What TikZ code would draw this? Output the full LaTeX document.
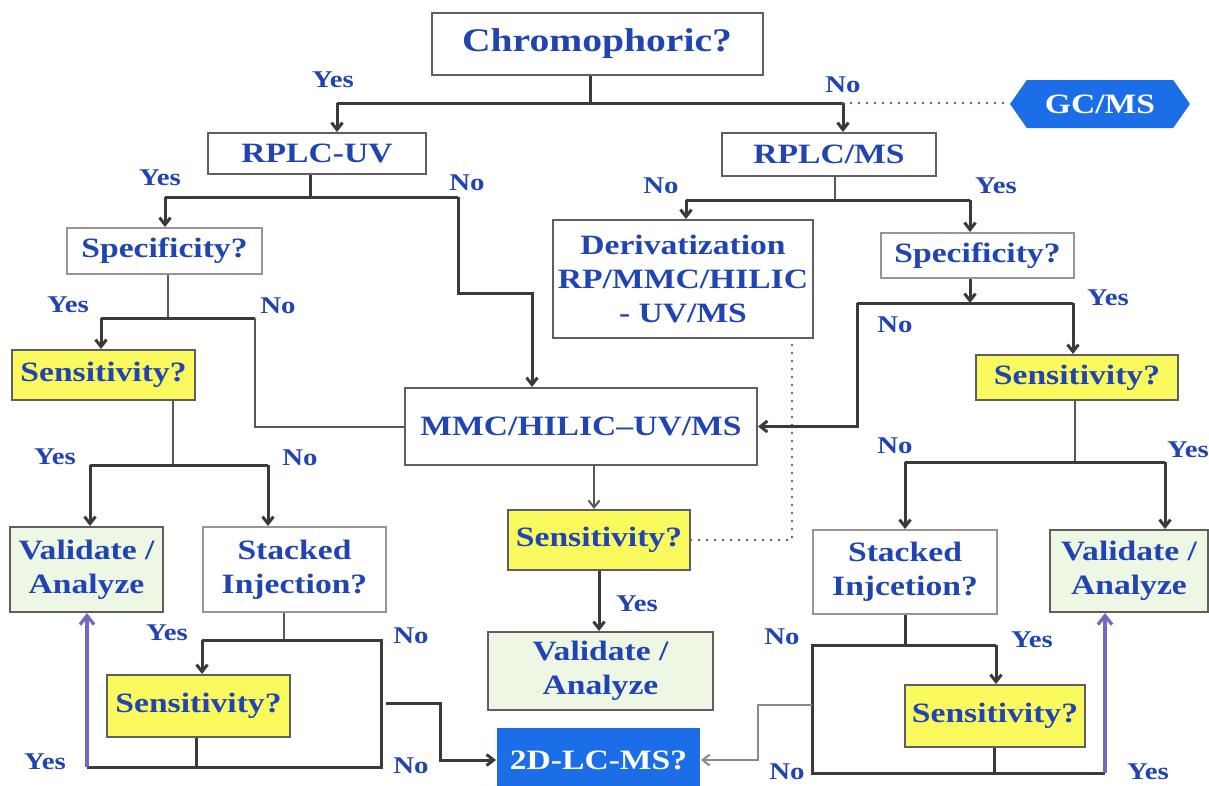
\documentclass[tikz,border=0pt]{standalone}
\usepackage{fontspec}
\setmainfont{Liberation Serif}[FakeStretch=1.2]
\usetikzlibrary{arrows.meta,shapes.symbols}
\definecolor{tblue}{RGB}{32,68,178}
\definecolor{lgray}{RGB}{58,58,58}
\definecolor{bgray}{RGB}{95,95,95}
\definecolor{sgray}{RGB}{150,150,150}
\definecolor{yfill}{RGB}{250,250,95}
\definecolor{gfill}{RGB}{238,246,228}
\definecolor{dblue}{RGB}{28,110,232}
\definecolor{purp}{RGB}{120,100,195}
\tikzset{
  box/.style={draw=bgray, line width=2pt, fill=white, inner sep=0pt, align=center,
    text=tblue, font=\fontsize{28}{34}\selectfont\bfseries},
  ybox/.style={box, fill=yfill},
  gbox/.style={box, fill=gfill},
  sbox/.style={box, draw=sgray},
  bbox/.style={box, draw=none, fill=dblue, text=white},
  lab/.style={text=tblue, font=\fontsize{24}{28}\selectfont\bfseries, inner sep=0pt},
  ln/.style={draw=lgray, line width=3pt},
  thin/.style={draw=lgray!85, line width=2pt},
  arr/.style={ln, -{Straight Barb[length=7pt,width=11pt]}},
  tarr/.style={thin, -{Straight Barb[length=7pt,width=11pt]}},
  parr/.style={draw=purp, line width=3.2pt, -{Straight Barb[length=9pt,width=14pt]}},
  dotl/.style={draw=bgray, line width=2.8pt, line cap=round, dash pattern=on 0pt off 8pt},
}
\begin{document}
\begin{tikzpicture}[x=1pt,y=-1pt]
\useasboundingbox (0,0) rectangle (1209,785);
\fill[white] (0,0) rectangle (1209,785);

% nodes
\node[box, minimum width=331, minimum height=62, font=\fontsize{33}{38}\selectfont\bfseries] (chromo) at (597,44) {Chromophoric?};
\node[box, minimum width=218, minimum height=41] (rplcuv) at (317,153.5) {RPLC-UV};
\node[box, minimum width=214, minimum height=43] (rplcms) at (829,154.5) {RPLC/MS};
\node[bbox, shape=signal, signal to=west and east, signal pointer angle=110,
      minimum width=180, minimum height=48] (gcms) at (1100,104) {GC/MS};
\node[sbox, minimum width=195, minimum height=46] (spec1) at (164.5,251) {Specificity?};
\node[ybox, minimum width=183, minimum height=50] (sens1) at (103.5,375) {Sensitivity?};
\node[gbox, minimum width=153, minimum height=85] (val1) at (86.5,569.5) {Validate /\\Analyze};
\node[sbox, minimum width=183, minimum height=85] (stack1) at (294.5,569.5) {Stacked\\Injection?};
\node[ybox, minimum width=183, minimum height=62] (sens2) at (198.5,706) {Sensitivity?};
\node[box, minimum width=352, minimum height=77] (mmc) at (581,426.5) {MMC/HILIC--UV/MS};
\node[ybox, minimum width=182, minimum height=60] (sens3) at (599,540) {Sensitivity?};
\node[gbox, minimum width=225, minimum height=78] (val2) at (600.5,671) {Validate /\\Analyze};
\node[bbox, minimum width=203, minimum height=64] (lcms) at (598.5,760) {2D-LC-MS?};
\node[box, minimum width=260, minimum height=118] (deriv) at (683,279) {Derivatization\\RP/MMC/HILIC\\- UV/MS};
\node[sbox, minimum width=193, minimum height=45] (spec2) at (977.5,255.5) {Specificity?};
\node[ybox, minimum width=202, minimum height=45] (sens4) at (1077,377.5) {Sensitivity?};
\node[sbox, minimum width=184, minimum height=84] (stack2) at (905,572) {Stacked\\Injcetion?};
\node[gbox, minimum width=158, minimum height=82] (val3) at (1129,571) {Validate /\\Analyze};
\node[ybox, minimum width=180, minimum height=62] (sens5) at (995,716) {Sensitivity?};

% junction coordinates
\coordinate (c1) at (590,103); \coordinate (c1L) at (337,103); \coordinate (c1R) at (843,103);
\coordinate (c2) at (310,197); \coordinate (c2L) at (165,197); \coordinate (c2R) at (458,197);
\coordinate (c2a) at (458,293); \coordinate (c2b) at (532,293);
\coordinate (c3) at (168,318); \coordinate (c3L) at (101,318); \coordinate (c3R) at (255,318);
\coordinate (c4) at (173,465); \coordinate (c4L) at (90,465); \coordinate (c4R) at (268,465);
\coordinate (c5) at (284,640); \coordinate (c5L) at (202,640); \coordinate (c5R) at (381,640);
\coordinate (c5B) at (381,767); \coordinate (c6L) at (87,767); \coordinate (c6) at (196,767);
\coordinate (c7) at (386,703); \coordinate (c7a) at (440,703);
\coordinate (c8) at (594,480);
\coordinate (c9) at (792,540);
\coordinate (c10) at (835,200); \coordinate (c10L) at (686,200); \coordinate (c10R) at (970,200);
\coordinate (c11) at (970,303); \coordinate (c11L) at (857,303); \coordinate (c11R) at (1073,303);
\coordinate (c12) at (1075,462); \coordinate (c12L) at (905,462); \coordinate (c12R) at (1165,462);
\coordinate (c13) at (905,645); \coordinate (c13L) at (812,645); \coordinate (c13R) at (996,645);
\coordinate (c14L) at (812,773); \coordinate (c14R) at (1105,773); \coordinate (c14) at (994,773);
\coordinate (c15) at (812,705); \coordinate (c15a) at (758,705);

% connectors
\draw[ln] (c1 |- chromo.south) -- (c1);
\draw[ln] (c1L) -- (c1R);
\draw[arr] (c1L) -- (c1L |- rplcuv.north);
\draw[arr] (c1R) -- (c1R |- rplcms.north);
\draw[dotl] (c1R) -- (c1R -| gcms.west);

\draw[ln] (c2 |- rplcuv.south) -- (c2);
\draw[ln] (c2L) -- (c2R);
\draw[arr] (c2L) -- (c2L |- spec1.north);
\draw[arr] (c2R) -- (c2a) -- (c2b) -- (c2b |- mmc.north);

\draw[thin] (c3 |- spec1.south) -- (c3);
\draw[ln] (c3L) -- (c3R);
\draw[arr] (c3L) -- (c3L |- sens1.north);
\draw[thin] (c3R) -- (c3R |- mmc.west) -- (mmc.west);

\draw[thin] (c4 |- sens1.south) -- (c4);
\draw[ln] (c4L) -- (c4R);
\draw[arr] (c4L) -- (c4L |- val1.north);
\draw[arr] (c4R) -- (c4R |- stack1.north);

\draw[thin] (c5 |- stack1.south) -- (c5);
\draw[ln] (c5L) -- (c5R) -- (c5B) -- (c6L);
\draw[arr] (c5L) -- (c5L |- sens2.north);
\draw[ln] (c6 |- sens2.south) -- (c6);
\draw[parr] (c6L) -- (c6L |- val1.south);
\draw[arr] (c7) -- (c7a) -- (c7a |- lcms.west) -- (lcms.west);

\draw[tarr] (c8 |- mmc.south) -- (c8 |- sens3.north);
\draw[arr] (sens3.south) -- (sens3.south |- val2.north);
\draw[dotl] (sens3.east) -- (c9) -- (c9 |- deriv.south);

\draw[thin] (c10 |- rplcms.south) -- (c10);
\draw[ln] (c10L) -- (c10R);
\draw[arr] (c10L) -- (c10L |- deriv.north);
\draw[arr] (c10R) -- (c10R |- spec2.north);

\draw[arr] (c11 |- spec2.south) -- (c11);
\draw[ln] (c11L) -- (c11R);
\draw[arr] (c11R) -- (c11R |- sens4.north);
\draw[arr] (c11L) -- (c11L |- mmc.east) -- (mmc.east);

\draw[thin] (c12 |- sens4.south) -- (c12);
\draw[ln] (c12L) -- (c12R);
\draw[arr] (c12L) -- (c12L |- stack2.north);
\draw[arr] (c12R) -- (c12R |- val3.north);

\draw[ln] (c13 |- stack2.south) -- (c13);
\draw[ln] (c13R) -- (c13L) -- (c14L) -- (c14R);
\draw[arr] (c13R) -- (c13R |- sens5.north);
\draw[ln] (c14 |- sens5.south) -- (c14);
\draw[parr] (c14R) -- (c14R |- val3.south);
\draw[tarr, draw=lgray!60] (c15) -- (c15a) -- (c15a |- lcms.east) -- (lcms.east);

% labels
\node[lab] (l1) at (333,80) {Yes};
\node[lab] (l2) at (843,85) {No};
\node[lab] (l3) at (160,178) {Yes};
\node[lab] (l4) at (467,183) {No};
\node[lab] (l5) at (68,305) {Yes};
\node[lab] (l6) at (278,306) {No};
\node[lab] (l7) at (55,457) {Yes};
\node[lab] (l8) at (300,458) {No};
\node[lab] (l9) at (167,633) {Yes};
\node[lab] (l10) at (411,636) {No};
\node[lab] (l11) at (45,762) {Yes};
\node[lab] (l12) at (411,766) {No};
\node[lab] (l13) at (637,604) {Yes};
\node[lab] (l14) at (661,186) {No};
\node[lab] (l15) at (996,186) {Yes};
\node[lab] (l16) at (1108,298) {Yes};
\node[lab] (l17) at (895,325) {No};
\node[lab] (l18) at (895,446) {No};
\node[lab] (l19) at (1188,450) {Yes};
\node[lab] (l20) at (782,637) {No};
\node[lab] (l21) at (1032,640) {Yes};
\node[lab] (l22) at (1148,772) {Yes};
\node[lab] (l23) at (787,772) {No};
\end{tikzpicture}
\end{document}
